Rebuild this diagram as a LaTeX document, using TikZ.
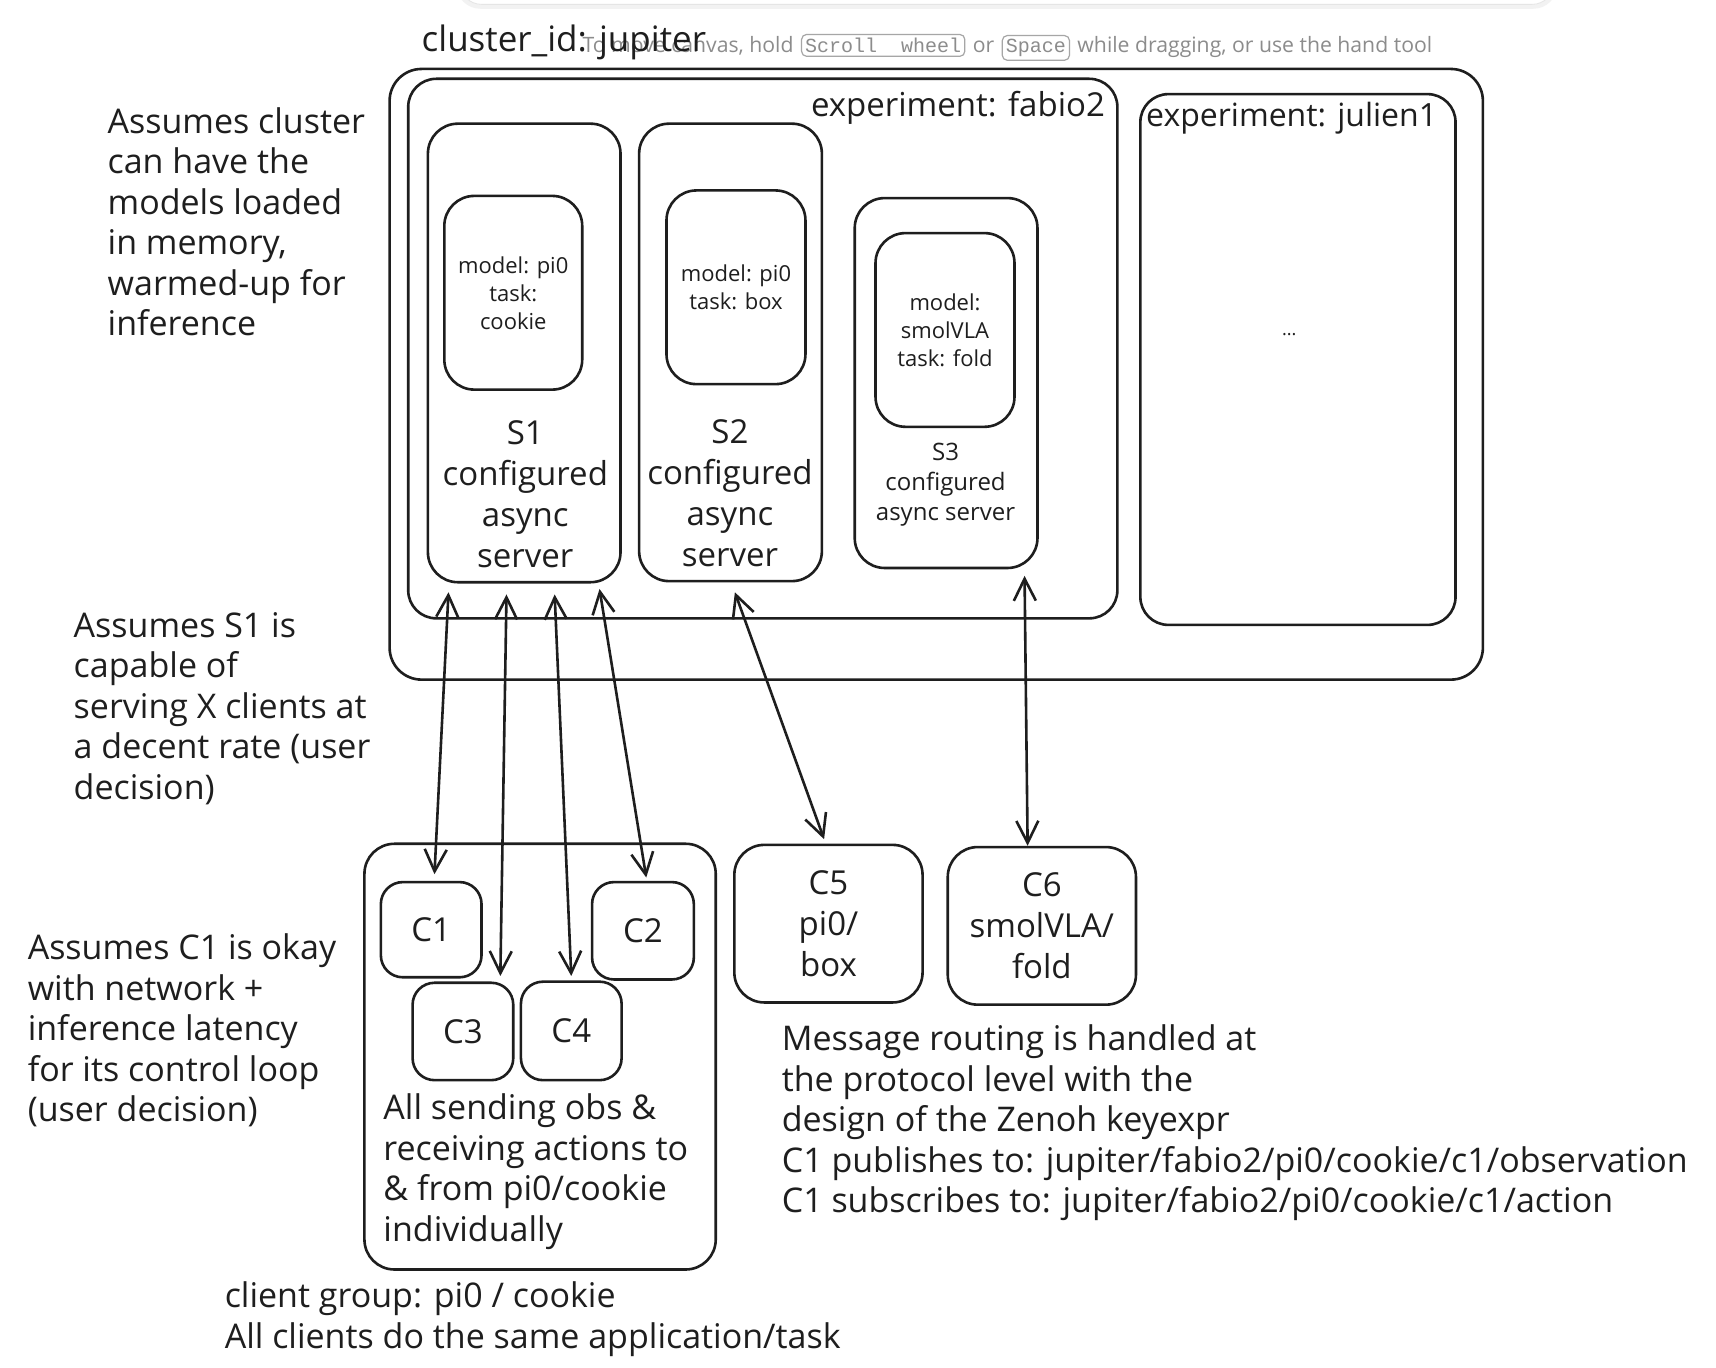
\documentclass[tikz,border=0pt]{standalone}
\usepackage{fontspec}
\setmainfont{Open Sans}
\setmonofont{Liberation Mono}
\usetikzlibrary{positioning,calc,fit,arrows.meta}
\definecolor{ink}{HTML}{1E1E1E}

\begin{document}
\begin{tikzpicture}[
    x=0.5472pt, y=-0.5472pt, color=ink,
    box/.style={draw=ink, line width=1.3pt, rounded corners=#1, inner sep=0pt},
    box/.default=15pt,
    note/.style={anchor=north west, align=left, inner sep=0pt, font=\fontsize{17}{20.25}\selectfont},
    bigtxt/.style={align=center, inner sep=0pt, font=\fontsize{16.5}{20.5}\selectfont},
    midtxt/.style={align=center, inner sep=0pt, font=\fontsize{12}{15}\selectfont},
    smalltxt/.style={align=center, inner sep=0pt, font=\fontsize{11}{14}\selectfont},
    hint/.style={text=black!45, inner sep=0pt, font=\fontsize{10.6}{12}\selectfont},
    keycap/.style={draw=black!35, text=black!45, rounded corners=2.5pt, line width=0.6pt, inner sep=1.8pt, font=\fontsize{10}{12}\ttfamily},
    link/.style={<->, >={Straight Barb[length=11pt,width=11pt]}, draw=ink, line width=1.3pt}
]
    \path[use as bounding box, fill=white] (0,0) rectangle (1568,1250);

    % canvas hint bar
    \fill[black!5, rounded corners=12pt] (417,-30) rectangle (1423,8);
    \draw[black!10, fill=white, rounded corners=11pt] (420,-30) rectangle (1420,4);
    \node[hint, anchor=base west] (hinta) at (532,48) {To move canvas, hold};
    \node[keycap, base right=3.5pt of hinta] (keya) {Scroll\ \ wheel};
    \node[hint, base right=3.5pt of keya] (hintb) {or};
    \node[keycap, base right=3.5pt of hintb] (keyb) {Space};
    \node[hint, base right=3.5pt of keyb] (hintc) {while dragging, or use the hand tool};

    % cluster and experiments
    \node[box=16pt, fit={(356,63) (1355,621)}] (cluster) {};
    \node[box=14pt, fit={(373,72) (1021,565)}] (fabio) {};
    \node[box=14pt, fit={(1042,86) (1330,571)}] (julien) {};
    \node[anchor=base west, inner sep=0pt, font=\fontsize{17.5}{18}\selectfont] (clusterlbl) at (385,47) {cluster\_id: jupiter};
    \node[anchor=base east, inner sep=0pt, font=\fontsize{16.5}{18}\selectfont] (fabiolbl) at (1010,106) {experiment: fabio2};
    \node[anchor=base west, inner sep=0pt, font=\fontsize{16}{18}\selectfont] (julienlbl) at (1047,116) {experiment: julien1};
    \node[font=\fontsize{9}{10}\selectfont] (more) at (1178,306) {...};

    % servers
    \node[box, fit={(391,113) (567,532)}] (s1) {};
    \node[box, fit={(584,113) (751,531)}] (s2) {};
    \node[box, fit={(781,181) (948,519)}] (s3) {};
    \node[box, fit={(406,179) (532,356)}] (m1) {};
    \node[box, fit={(609,174) (736,351)}] (m2) {};
    \node[box, fit={(800,213) (927,390)}] (m3) {};
    \node[smalltxt] (m1txt) at (m1) {model: pi0\\task:\\cookie};
    \node[smalltxt] (m2txt) at (m2) {model: pi0\\task: box};
    \node[smalltxt] (m3txt) at (m3) {model:\\smolVLA\\task: fold};
    \node[bigtxt] (s1lbl) at (480,452) {S1\\configured\\async\\server};
    \node[bigtxt] (s2lbl) at (667,451) {S2\\configured\\async\\server};
    \node[midtxt] (s3lbl) at (864,443) {S3\\configured\\async server};

    % clients
    \node[box, fit={(333,771) (654,1160)}] (group) {};
    \node[box=11pt, fit={(348,806) (440,893)}] (c1) {};
    \node[box=11pt, fit={(541,806) (634,895)}] (c2) {};
    \node[box=11pt, fit={(377,898) (469,987)}] (c3) {};
    \node[box=11pt, fit={(476,897) (568,987)}] (c4) {};
    \node[box, fit={(671,772) (843,916)}] (c5) {};
    \node[box, fit={(866,774) (1038,918)}] (c6) {};
    \foreach \c/\t in {c1/C1, c2/C2, c3/C3, c4/C4, c5/{C5\\pi0/\\box}, c6/{C6\\smolVLA/\\fold}}
        \node[bigtxt] (\c-txt) at (\c) {\t};
    \node[note] (grouptxt) at (350,999) {All sending obs \&\\receiving actions to\\\& from pi0/cookie\\individually};

    % links
    \foreach \sx/\sy/\tgt/\tx/\ty in {20/8/c1.north/3/-6, 73/10/c3.north east/-13/-5, 117/10/c4.north/0/-4, 158/5/c2.north/3/-3}
        \draw[link] ($(s1.south west)+(\sx,\sy)$) -- ($(\tgt)+(\tx,\ty)$);
    \draw[link] ($(s2.south)+(4,9)$) -- ($(c5.north)+(-4,-4)$);
    \draw[link] ($(s3.south east)+(-13,6)$) -- ($(c6.north)+(-13,0)$);

    % notes
    \node[note] (warmnote) at (98,98) {Assumes cluster\\can have the\\models loaded\\in memory,\\warmed-up for\\inference};
    \node[note] (ratenote) at (67,559) {Assumes S1 is\\capable of\\serving X clients at\\a decent rate (user\\decision)};
    \node[note] (latnote) at (25,853) {Assumes C1 is okay\\with network +\\inference latency\\for its control loop\\(user decision)};
    \node[note] (routenote) at (714,936) {Message routing is handled at\\the protocol level with the\\design of the Zenoh keyexpr\\C1 publishes to: jupiter/fabio2/pi0/cookie/c1/observation\\C1 subscribes to: jupiter/fabio2/pi0/cookie/c1/action};
    \node[note] (groupnote) at (205,1171) {client group: pi0 / cookie\\All clients do the same application/task};
\end{tikzpicture}
\end{document}
